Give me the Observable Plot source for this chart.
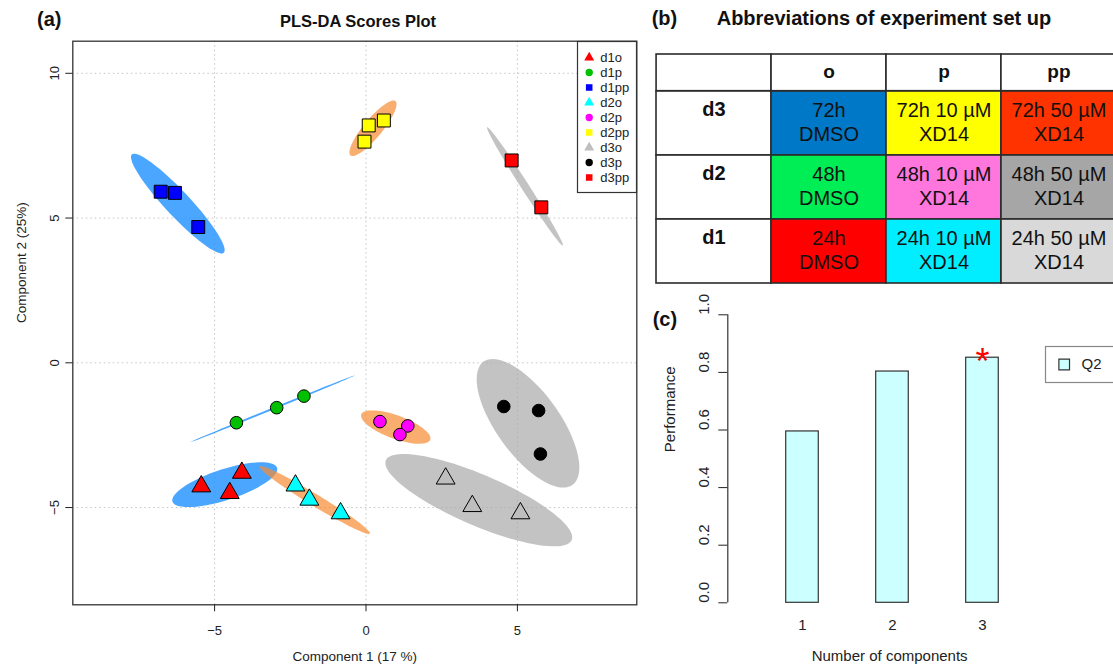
<!DOCTYPE html>
<html><head><meta charset="utf-8">
<script src="https://cdn.jsdelivr.net/npm/d3@7"></script>
<script src="https://cdn.jsdelivr.net/npm/@observablehq/plot@0.6"></script>
<style>
html,body{margin:0;padding:0;background:#fff;overflow:hidden;}
#root{position:relative;width:1113px;height:671px;overflow:hidden;font-family:"Liberation Sans",Arial,sans-serif;color:#111;}
.lbl{position:absolute;white-space:nowrap;line-height:1;font-weight:bold;}
</style></head><body><div id="root"></div>
<script>
// ---------------- DATA ----------------
// Panel (a): PLS-DA scores
const groups = ["d1o","d1p","d1pp","d2o","d2p","d2pp","d3o","d3p","d3pp"];
const groupColors = ["#ff0000","#00c000","#0000ff","#00ffff","#ff00ff","#ffff00","#bebebe","#000000","#ff0000"];
const groupShapes = ["triangle","circle","square","triangle","circle","square","triangle","circle","square"];
const scoreGroup = ["d1o","d1o","d1o","d1p","d1p","d1p","d1pp","d1pp","d1pp",
                    "d2o","d2o","d2o","d2p","d2p","d2p","d2pp","d2pp","d2pp",
                    "d3o","d3o","d3o","d3p","d3p","d3p","d3pp","d3pp"];
const comp1 = [-5.44,-4.10,-4.50, -4.28,-2.95,-2.05, -6.78,-6.31,-5.54,
               -2.33,-1.87,-0.84,  0.46, 1.38, 1.12,  0.09, 0.59,-0.05,
                2.63, 3.51, 5.10,  4.55, 5.70, 5.76,  4.81, 5.79];
const comp2 = [-4.27,-3.80,-4.50, -2.07,-1.55,-1.15,  5.91, 5.87, 4.69,
               -4.24,-4.73,-5.20, -2.03,-2.18,-2.48,  8.20, 8.37, 7.64,
               -4.00,-4.95,-5.20, -1.51,-1.65,-3.15,  6.99, 5.37];
// confidence ellipses: major-axis end points and minor semi-axis (data units)
const ellGroup = ["d1pp","d1p","d1o","d2pp","d2p","d2o","d3pp","d3p","d3o"];
const ellDay   = ["d1","d1","d1","d2","d2","d2","d3","d3","d3"];
const ellX1 = [-7.73,-5.80,-6.39, -0.51,-0.155,-3.51, 4.00, 3.90, 0.66];
const ellY1 = [ 7.20,-2.74,-4.80,  7.16,-1.78, -3.58, 8.14, 0.05,-3.36];
const ellX2 = [-4.70,-0.38,-2.94,  0.97, 2.12,  0.13, 6.50, 6.80, 6.79];
const ellY2 = [ 3.80,-0.44,-3.62,  9.04,-2.66, -5.90, 4.05,-4.23,-6.13];
const ellB  = [ 0.42, 0.035,0.53,  0.31, 0.40,  0.20, 0.13, 1.06, 0.87];
const days = ["d1","d2","d3"];
const dayColors = ["#1e90ff","#f68b33","#a9a9a9"];
const xTicksA = [-5,0,5];
const yTicksA = [-5,0,5,10];
const titleA = "PLS-DA Scores Plot";
const xLabelA = "Component 1 (17 %)";
const yLabelA = "Component 2 (25%)";

// Panel (b): table
const tableTitle = "Abbreviations of experiment set up";
const tableRows = ["d3","d2","d1"];
const tableCols = ["o","p","pp"];
const cellLabels = [
  ["72h\nDMSO","72h 10 µM\nXD14","72h 50 µM\nXD14"],
  ["48h\nDMSO","48h 10 µM\nXD14","48h 50 µM\nXD14"],
  ["24h\nDMSO","24h 10 µM\nXD14","24h 50 µM\nXD14"]];
const cellFills = [
  ["#0078c8","#ffff00","#ff3300"],
  ["#00ee55","#ff77dd","#a6a6a6"],
  ["#ff0000","#00eeff","#d9d9d9"]];

// Panel (c): performance
const components = [1,2,3];
const q2 = [0.595, 0.803, 0.851];
const bestComponent = 3;
const yTicksC = [0,0.2,0.4,0.6,0.8,1.0];
const xLabelC = "Number of components";
const yLabelC = "Performance";
const seriesC = "Q2";

// ---------------- BUILD ----------------
const root = document.getElementById("root");
const FONT = "'Liberation Sans', Arial, sans-serif";
function place(node, left, top) {
  node.style.position = "absolute"; node.style.left = left + "px"; node.style.top = top + "px";
  root.appendChild(node);
}
function label(text, left, top, size, center) {
  const d = document.createElement("div");
  d.className = "lbl"; d.textContent = text;
  d.style.left = left + "px"; d.style.top = top + "px"; d.style.fontSize = size + "px";
  if (center) d.style.transform = "translateX(-50%)";
  root.appendChild(d);
}
const baseStyle = {fontFamily: FONT, background: "transparent", overflow: "visible", color: "#222"};

// ---- Panel (a)
const scores = scoreGroup.map((g, i) => ({g, c1: comp1[i], c2: comp2[i], shape: groupShapes[groups.indexOf(g)]}));
const ellipses = ellGroup.map((g, i) => ({g, day: ellDay[i], x1: ellX1[i], y1: ellY1[i], x2: ellX2[i], y2: ellY2[i], b: ellB[i]}));
function ellipsePoints(e, n = 90) {
  const cx = (e.x1 + e.x2) / 2, cy = (e.y1 + e.y2) / 2;
  const ux = (e.x2 - e.x1) / 2, uy = (e.y2 - e.y1) / 2;
  const L = Math.hypot(ux, uy), nx = -uy / L, ny = ux / L;
  return d3.range(n).map(i => {
    const t = 2 * Math.PI * i / n;
    return {x: cx + Math.cos(t) * ux + Math.sin(t) * e.b * nx, y: cy + Math.cos(t) * uy + Math.sin(t) * e.b * ny};
  });
}
const ellOpacity = {d1: 0.8, d2: 0.7, d3: 0.7};
const ellipseMarks = ellipses.map(e => Plot.line(ellipsePoints(e), {
  x: "x", y: "y", curve: "linear-closed", stroke: "none",
  fill: dayColors[days.indexOf(e.day)], fillOpacity: ellOpacity[e.day]
}));
const shapeR = {triangle: 7, circle: 6.3, square: 7.3};
const dotMarks = ["triangle","circle","square"].map(s => Plot.dot(scores.filter(d => d.shape === s), {
  x: "c1", y: "c2", symbol: "g", fill: "g", stroke: "#000", strokeWidth: 1, r: shapeR[s]
}));

const plotA = Plot.plot({
  width: 640, height: 671,
  marginLeft: 72.3, marginRight: 3.7, marginTop: 40.7, marginBottom: 66.7,
  x: {domain: [-9.683, 8.943]}, y: {domain: [-8.359, 11.109]},
  symbol: {domain: groups, range: groupShapes},
  color: {domain: groups, range: groupColors},
  style: {...baseStyle, fontSize: "13px"},
  marks: [
    Plot.gridX({ticks: xTicksA, stroke: "#c4c4c4", strokeOpacity: 1, strokeDasharray: "1.5,3"}),
    Plot.gridY({ticks: yTicksA, stroke: "#c4c4c4", strokeOpacity: 1, strokeDasharray: "1.5,3"}),
    ...ellipseMarks,
    ...dotMarks,
    Plot.frame({stroke: "#333", strokeWidth: 1.3}),
    Plot.axisX({ticks: xTicksA, tickSize: 7, tickPadding: 14, fontSize: 13, label: null}),
    Plot.axisY({ticks: yTicksA, tickSize: 7, tickPadding: 7, tickRotate: -90, fontSize: 13, label: null}),
    Plot.text([xLabelA], {text: d => d, frameAnchor: "bottom", dy: 56, fontSize: 13.5}),
    Plot.text([yLabelA], {text: d => d, frameAnchor: "left", dx: -51, rotate: -90, fontSize: 13.5})
  ]
});
place(plotA, 0, 0);

// legend (a)
const legendA = Plot.plot({
  width: 61, height: 153, margin: 1,
  x: {axis: null},
  y: {type: "band", domain: groups, range: [7.5, 145.5], axis: null},
  symbol: {domain: groups, range: groupShapes},
  color: {domain: groups, range: groupColors},
  style: {...baseStyle, fontSize: "13px"},
  marks: [
    Plot.frame({stroke: "#333", strokeWidth: 1.2, fill: "white"}),
    Plot.dot(groups, {y: d => d, frameAnchor: "left", dx: 11.7, symbol: d => d, fill: d => d, r: 3.7}),
    Plot.text(groups, {y: d => d, text: d => d, frameAnchor: "left", dx: 22.7, textAnchor: "start", fontSize: 13})
  ]
});
place(legendA, 576.3, 39.7);

label("(a)", 37, 8.7, 20, false);
label(titleA, 358, 12.7, 16.5, true);

// ---- Panel (b): table
const colKeys = ["_", ...tableCols];
const headerCells = colKeys.map(c => ({col: c, text: c === "_" ? "" : c}));
const bodyCells = tableRows.flatMap((r, i) => [
  {row: r, col: "_", fill: "#ffffff", text: ""},
  ...tableCols.map((c, j) => ({row: r, col: c, fill: cellFills[i][j], text: cellLabels[i][j]}))
]);
const header = Plot.plot({
  width: 478, height: 36.7, marginLeft: 15, marginRight: 0.6, marginTop: 0, marginBottom: 0,
  x: {type: "band", domain: colKeys, padding: 0, axis: null},
  style: {...baseStyle, fontSize: "19px"},
  marks: [
    Plot.cell(headerCells, {x: "col", fill: "#fff", stroke: "#2b2b2b", strokeWidth: 1.6, inset: 0}),
    Plot.text(headerCells, {x: "col", text: "text", fontWeight: "bold", fontSize: 19, fill: "#111", dy: -1})
  ]
});
place(header, 640, 54);
const body = Plot.plot({
  width: 478, height: 192, marginLeft: 15, marginRight: 0.6, marginTop: 0, marginBottom: 0,
  x: {type: "band", domain: colKeys, padding: 0, axis: null},
  y: {type: "band", domain: tableRows, padding: 0, axis: null},
  color: {type: "identity"},
  style: {...baseStyle, fontSize: "20px"},
  marks: [
    Plot.cell(bodyCells, {x: "col", y: "row", fill: "fill", stroke: "#2b2b2b", strokeWidth: 1.6, inset: 0}),
    Plot.text(bodyCells, {x: "col", y: "row", text: "text", fontSize: 20, lineHeight: 1.17, fill: "#111", dy: -2}),
    Plot.text(tableRows, {x: () => "_", y: d => d, text: d => d, fontWeight: "bold", fontSize: 20, fill: "#111", dy: -14})
  ]
});
place(body, 640, 90.7);
label("(b)", 651.7, 8, 20, false);
label(tableTitle, 716.7, 8, 20, false);

// ---- Panel (c): bar chart
const perf = components.map((n, i) => ({n, q2: q2[i]}));
const xDomC = [0.17, 4.456];
const barHalf = 0.181;
const fmt1 = d3.format(".1f");
const plotC = Plot.plot({
  width: 473, height: 376, marginLeft: 87.3, marginRight: 0, marginTop: 19.3, marginBottom: 68.7,
  x: {domain: xDomC, axis: null}, y: {domain: [0, 1]},
  style: {...baseStyle, fontSize: "15px"},
  marks: [
    Plot.rectY(perf, {x1: d => d.n - barHalf, x2: d => d.n + barHalf, y: "q2", fill: "#ccffff", stroke: "#333", strokeWidth: 1.2}),
    Plot.ruleX([xDomC[0]], {y1: yTicksC[0], y2: yTicksC[yTicksC.length - 1], stroke: "#333", strokeWidth: 1.2}),
    Plot.axisY({ticks: yTicksC, tickFormat: () => "", tickSize: 9, label: null}),
    Plot.text(yTicksC, {y: d => d, text: d => fmt1(d), frameAnchor: "left", dx: -24, rotate: -90, fontSize: 15}),
    Plot.text(components, {x: d => d, text: d => String(d), frameAnchor: "bottom", dy: 27, fontSize: 15}),
    Plot.text(perf.filter(d => d.n === bestComponent), {x: "n", y: "q2", text: () => "*", fill: "#ff0000", fontSize: 36, dy: 5}),
    Plot.text([yLabelC], {text: d => d, frameAnchor: "left", dx: -57.3, dy: -6.6, rotate: -90, fontSize: 15}),
    Plot.text([xLabelC], {text: d => d, frameAnchor: "bottom", dx: -31, dy: 57.7, fontSize: 15})
  ]
});
place(plotC, 640, 295);

const legendC = Plot.plot({
  width: 80, height: 38, margin: 1,
  x: {axis: null}, y: {axis: null},
  style: {...baseStyle, fontSize: "15px"},
  marks: [
    Plot.frame({stroke: "#888", strokeWidth: 1.2, fill: "white"}),
    Plot.dot([seriesC], {frameAnchor: "left", dx: 18.7, symbol: "square", r: 6, fill: "#ccffff", stroke: "#333", strokeWidth: 1.2}),
    Plot.text([seriesC], {text: d => d, frameAnchor: "left", dx: 36, textAnchor: "start", fontSize: 15})
  ]
});
place(legendC, 1044, 345);
label("(c)", 652.7, 308.7, 20, false);
</script></body></html>
